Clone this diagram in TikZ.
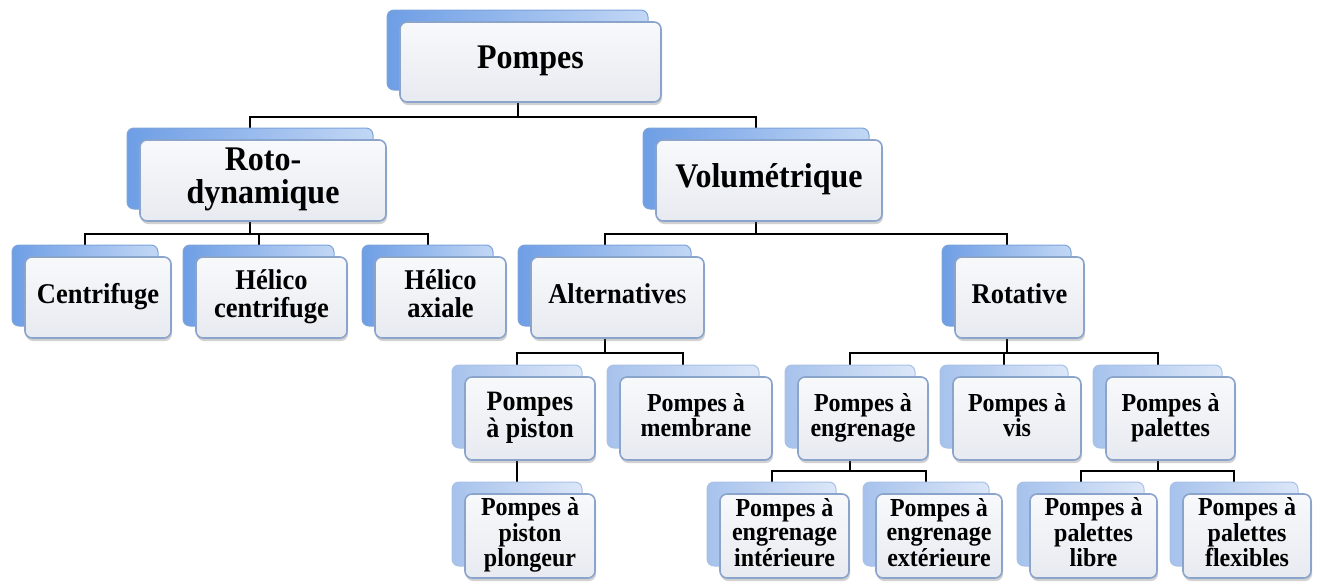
\documentclass[tikz,border=0pt]{standalone}
\usepackage{fontspec}
\setmainfont{Liberation Serif}
\usetikzlibrary{shadows}
\definecolor{frontline}{HTML}{8AA4CC}
\definecolor{fronttop}{HTML}{F8F9FB}
\definecolor{frontbot}{HTML}{E7EAF0}
\definecolor{backdark}{HTML}{6E9EE5}
\definecolor{backlight}{HTML}{C2D7F5}
\definecolor{backline}{HTML}{7EA3DA}
\definecolor{paledark}{HTML}{A6C2EC}
\definecolor{palelight}{HTML}{DCE7F8}
\definecolor{paleline}{HTML}{A9C1E6}
\pgfdeclarelayer{background}
\pgfsetlayers{background,main}
\tikzset{
  backstrong/.style={rounded corners=7pt, draw=backline, line width=1pt,
    left color=backdark, right color=backlight, inner sep=0pt, outer sep=0pt},
  backpale/.style={rounded corners=7pt, draw=paleline, line width=1pt,
    left color=paledark, right color=palelight, inner sep=0pt, outer sep=0pt},
  frontbox/.style={rounded corners=7pt, draw=frontline, line width=1.6pt,
    top color=fronttop, bottom color=frontbot, inner sep=0pt, outer sep=0pt,
    align=center, text=black,
    drop shadow={shadow xshift=1pt, shadow yshift=-3pt, opacity=0.3, fill=black!60}},
  conn/.style={draw=black, line width=2pt}
}
% name, x, y, w, h, back style, font size, baselineskip, text
\newcommand\pumpbox[9]{%
  \node[#6, minimum width=#4pt, minimum height=#5pt, anchor=north west] (#1B) at (#2,#3) {};
  \node[frontbox, minimum width=#4pt, minimum height=#5pt, anchor=north west,
        font={\fontsize{#7}{#8}\selectfont\bfseries}] (#1) at ({#2+13},{#3+12})
        {\scalebox{1}[1.08]{\begin{tabular}{@{}c@{}}#9\end{tabular}}};%
}
\begin{document}
\begin{tikzpicture}[x=1pt, y=-1pt]
\useasboundingbox (0,0) rectangle (1330,581);
\pumpbox{pompes}{387}{10}{261}{80}{backstrong}{32}{32}{Pompes}
\pumpbox{roto}{127}{128}{246}{81}{backstrong}{32}{29.6}{Roto-\\dynamique}
\pumpbox{volum}{643}{128}{226}{81}{backstrong}{32}{29.6}{Volumétrique}
\pumpbox{centri}{12}{245}{146}{81}{backstrong}{26.5}{25}{Centrifuge}
\pumpbox{helicoc}{183}{245}{151}{81}{backstrong}{26.5}{25}{Hélico\\centrifuge}
\pumpbox{helicoa}{362}{245}{131}{81}{backstrong}{26.5}{25}{Hélico\\axiale}
\pumpbox{altern}{518}{245}{173}{81}{backstrong}{26.5}{25}{Alternative{\mdseries s}}
\pumpbox{rotative}{942}{245}{129}{81}{backstrong}{26.5}{25}{Rotative}
\pumpbox{piston}{452}{365}{130}{83}{backpale}{26}{25}{Pompes\\à piston}
\pumpbox{membrane}{607}{365}{152}{83}{backpale}{24}{23.1}{Pompes à\\membrane}
\pumpbox{engren}{785}{365}{130}{83}{backpale}{24}{23.1}{Pompes à\\engrenage}
\pumpbox{vis}{940}{365}{128}{83}{backpale}{24}{23.1}{Pompes à\\vis}
\pumpbox{palettes}{1093}{365}{129}{83}{backpale}{24}{23.1}{Pompes à\\palettes}
\pumpbox{plongeur}{452}{482}{130}{84}{backpale}{24}{22.7}{Pompes à\\piston\\plongeur}
\pumpbox{interieure}{707}{482}{129}{84}{backpale}{24}{22.7}{Pompes à\\engrenage\\intérieure}
\pumpbox{exterieure}{863}{482}{126}{84}{backpale}{24}{22.7}{Pompes à\\engrenage\\extérieure}
\pumpbox{libre}{1017}{482}{127}{84}{backpale}{24}{22.7}{Pompes à\\palettes\\libre}
\pumpbox{flexibles}{1170}{482}{128}{84}{backpale}{24}{22.7}{Pompes à\\palettes\\flexibles}
\begin{pgfonlayer}{background}
  \draw[conn] (pompesB.south) -- (pompesB.south |- 0,117) -| (rotoB.north);
  \draw[conn] (pompesB.south |- 0,117) -| (volumB.north);
  \draw[conn] (rotoB.south) -- (rotoB.south |- 0,234) -| (centriB.north);
  \draw[conn] (rotoB.south |- 0,234) -| (helicocB.north);
  \draw[conn] (rotoB.south |- 0,234) -| (helicoaB.north);
  \draw[conn] (volumB.south) -- (volumB.south |- 0,234) -| (alternB.north);
  \draw[conn] (volumB.south |- 0,234) -| (rotativeB.north);
  \draw[conn] (alternB.south) -- (alternB.south |- 0,353) -| (pistonB.north);
  \draw[conn] (alternB.south |- 0,353) -| (membraneB.north);
  \draw[conn] (rotativeB.south) -- (rotativeB.south |- 0,353) -| (engrenB.north);
  \draw[conn] (rotativeB.south |- 0,353) -| (visB.north);
  \draw[conn] (rotativeB.south |- 0,353) -| (palettesB.north);
  \draw[conn] (pistonB.south) -- (plongeurB.north);
  \draw[conn] (engrenB.south) -- (engrenB.south |- 0,471) -| (interieureB.north);
  \draw[conn] (engrenB.south |- 0,471) -| (exterieureB.north);
  \draw[conn] (palettesB.south) -- (palettesB.south |- 0,471) -| (libreB.north);
  \draw[conn] (palettesB.south |- 0,471) -| (flexiblesB.north);
\end{pgfonlayer}
\end{tikzpicture}
\end{document}
